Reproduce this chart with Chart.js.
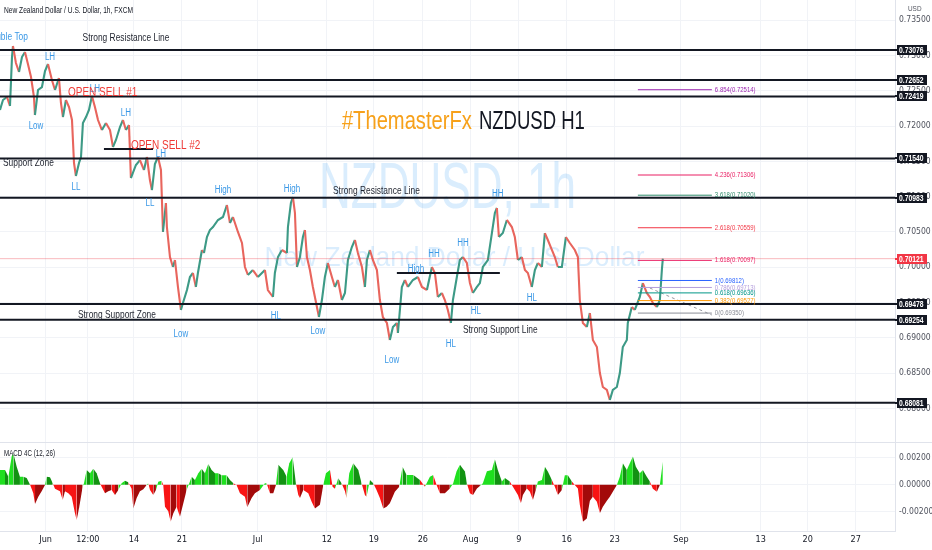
<!DOCTYPE html>
<html>
<head>
<meta charset="utf-8">
<script src="https://cdn.jsdelivr.net/npm/chart.js@4.4.0/dist/chart.umd.min.js"></script>
<style>
  body { margin: 0; background: #fff; width: 932px; height: 550px; overflow: hidden; }
  #wrapMain { position: absolute; left: 0; top: 0; width: 932px; height: 442px; }
  #wrapMacd { position: absolute; left: 0; top: 442px; width: 932px; height: 108px; }
</style>
</head>
<body>
<div id="wrapMain"><canvas id="mainChart" width="932" height="442"></canvas></div>
<div id="wrapMacd"><canvas id="macdChart" width="932" height="108"></canvas></div>
<script>
//############################
//######    Data     ########
//############################

// time axis, in trading days counted from Jun 1
const tickDays = [-0.3, 4.1, 8.9, 13.9, 21.8, 29, 33.9, 39, 44, 49, 54, 59, 65.9, 74.2, 79.1, 84.1];
const tickLabels = ["Jun", "12:00", "14", "21", "Jul", "12", "19", "26", "Aug", "9", "16", "23", "Sep", "13", "20", "27"];
const priceTicks = [0.68, 0.685, 0.69, 0.695, 0.70, 0.705, 0.71, 0.715, 0.72, 0.725, 0.73, 0.735];
const macdTicks = [-0.002, 0, 0.002];

// NZDUSD 1h path
const priceDays = [
  -5.05,-4.74,-4.32,-4.01,-3.80,-3.70,-3.39,-3.07,-2.76,-2.45,
  -2.14,-1.82,-1.51,-1.41,-1.09,-0.68,-0.36,-0.05,0.36,0.68,
  1.09,1.30,1.51,1.82,2.14,2.45,2.66,2.86,3.18,3.39,
  3.59,3.91,4.22,4.53,4.84,5.16,5.57,5.99,6.41,6.72,
  7.03,7.45,7.76,8.07,8.39,8.59,9.11,9.53,9.95,10.26,
  10.57,10.78,11.09,11.41,11.72,11.93,12.24,12.34,12.66,12.97,
  13.18,13.49,13.80,14.01,14.43,14.74,15.05,15.36,15.57,15.99,
  16.20,16.51,16.82,17.14,17.66,18.18,18.59,18.91,19.22,19.74,
  20.16,20.47,20.78,21.30,21.82,22.24,22.55,22.86,23.39,23.59,
  23.91,24.32,24.84,24.95,25.26,25.47,25.68,25.89,26.20,26.51,
  26.72,26.93,27.24,27.55,27.97,28.18,28.49,28.80,29.11,29.53,
  29.84,30.16,30.57,30.89,31.20,31.61,31.93,32.24,32.66,32.97,
  33.18,33.49,33.80,34.22,34.53,34.84,35.26,35.57,35.89,36.30,
  36.41,36.82,37.14,37.45,37.97,38.49,38.91,39.43,39.95,40.26,
  40.57,40.99,41.30,41.61,41.93,42.14,42.55,42.86,43.18,43.59,
  43.91,44.22,44.64,44.95,45.26,45.78,46.20,46.51,46.72,46.93,
  47.34,47.76,48.28,48.59,48.91,49.32,49.64,49.95,50.36,50.68,
  50.99,51.41,51.72,52.03,52.45,52.76,53.07,53.49,53.91,54.32,
  54.84,55.16,55.36,55.68,56.09,56.41,56.72,57.14,57.45,57.76,
  58.18,58.49,58.80,59.22,59.53,59.84,60.26,60.36,60.78,61.09,
  61.61,61.93,62.34,62.66,62.97,63.39,63.70,63.91,64.01
];
const priceCloses = [
  0.72227,0.72368,0.72411,0.72283,0.72977,0.73133,0.72892,0.72765,0.72977,0.73048,
  0.72878,0.72694,0.72411,0.72156,0.7251,0.72552,0.72779,0.72878,0.72652,0.7251,
  0.7268,0.72326,0.72127,0.72368,0.72269,0.72085,0.71476,0.71292,0.71476,0.71561,
  0.72042,0.72127,0.72227,0.72425,0.72269,0.72085,0.71943,0.72042,0.71943,0.71703,
  0.71802,0.71986,0.72085,0.71943,0.72014,0.71263,0.71448,0.71518,0.71377,0.71561,
  0.71235,0.71093,0.71462,0.71561,0.71377,0.70499,0.70909,0.70569,0.70144,0.70003,
  0.70102,0.6972,0.69394,0.69493,0.69677,0.69861,0.69918,0.6972,0.69918,0.70244,
  0.70201,0.70428,0.70527,0.70569,0.70669,0.70711,0.70881,0.70626,0.70711,0.70499,
  0.70343,0.70003,0.6989,0.6996,0.69861,0.69918,0.6996,0.69677,0.69578,0.69918,
  0.70144,0.70244,0.70201,0.70569,0.70909,0.70994,0.70768,0.70003,0.70144,0.70428,
  0.70527,0.70144,0.6996,0.6972,0.69436,0.69295,0.69535,0.69861,0.7006,0.69861,
  0.6972,0.69819,0.69535,0.69635,0.70102,0.70286,0.70385,0.70201,0.70003,0.6972,
  0.70102,0.70244,0.70102,0.6996,0.69535,0.69295,0.6921,0.68969,0.69153,0.6921,
  0.69068,0.6972,0.69819,0.6972,0.69819,0.69861,0.6972,0.69677,0.70003,0.69918,
  0.69578,0.69635,0.69535,0.69394,0.6921,0.69535,0.69861,0.70102,0.70144,0.7006,
  0.69776,0.69635,0.6972,0.69776,0.70003,0.70102,0.70484,0.70768,0.70839,0.70428,
  0.70484,0.70669,0.70569,0.70428,0.70102,0.70144,0.6996,0.69918,0.6972,0.6996,
  0.7006,0.70003,0.70484,0.70385,0.70244,0.70144,0.70003,0.70003,0.70428,0.70343,
  0.70244,0.70144,0.69535,0.6921,0.69153,0.69351,0.68969,0.6887,0.68501,0.68303,
  0.68261,0.68119,0.68261,0.68303,0.68501,0.6887,0.68969,0.6921,0.69436,0.69394,
  0.69578,0.69776,0.69635,0.69578,0.69493,0.69436,0.69535,0.6996,0.70121
];

// horizontal support / resistance levels
const levelPrices = [0.73076, 0.72652, 0.72419, 0.71540, 0.70983, 0.69478, 0.69254, 0.68081];
const lastPrice = 0.70121;
const sellLineDays = [5.78, 10.89];
const sellLinePrice = 0.71674;
const highLineDays = [36.30, 47.03];
const highLinePrice = 0.69918;

// fibonacci extension
const fibDays = [61.41, 69.12];
const fibRatios = ["6.854", "4.236", "3.618", "2.618", "1.618", "1", "0.786", "0.618", "0.382", "0"];
const fibPrices = [0.72514, 0.71306, 0.71020, 0.70559, 0.70097, 0.69812, 0.69713, 0.69636, 0.69527, 0.69350];
const fibTrendDays = [62.66, 69.12];
const fibTrendPrices = [0.69705, 0.69323];

// MACD 4C histogram
const macdDays = [
  -5.05,-4.53,-4.18,-3.83,-3.66,-3.31,-2.97,-2.62,-2.27,-1.93,
  -1.58,-1.40,-1.06,-0.71,-0.36,-0.19,0.16,0.44,0.68,1.20,
  1.48,1.72,2.07,2.42,2.76,2.94,3.21,3.56,3.70,3.98,
  4.33,4.67,5.02,5.37,5.54,5.89,6.23,6.58,6.93,7.28,
  7.62,7.97,8.32,8.66,8.84,9.19,9.53,9.88,10.23,10.40,
  10.58,10.92,11.20,11.44,11.79,11.96,12.14,12.48,12.73,13.01,
  13.35,13.70,14.05,14.39,14.67,14.92,15.26,15.61,15.96,16.30,
  16.65,17.00,17.35,17.69,18.04,18.56,18.91,19.26,19.60,19.95,
  20.47,20.71,21.17,21.51,22.03,22.55,22.73,23.07,23.42,23.70,
  23.94,24.46,24.81,25.09,25.44,25.78,26.03,26.20,26.55,27.07,
  27.42,27.76,28.28,28.63,28.91,29.33,29.60,29.85,30.19,30.54,
  30.89,31.06,31.34,31.76,32.28,32.62,32.97,33.14,33.49,33.84,
  34.18,34.53,34.88,35.23,35.57,36.09,36.55,36.89,37.31,38.01,
  38.70,39.22,39.74,40.09,40.44,40.78,41.30,41.82,42.17,42.52,
  42.87,43.39,43.59,43.91,44.22,44.64,44.95,45.26,45.68,46.20,
  46.51,46.82,47.24,47.55,48.07,48.39,48.91,49.22,49.43,49.84,
  50.16,50.47,50.78,50.99,51.41,51.72,52.03,52.45,52.76,53.07,
  53.49,53.80,54.11,54.53,54.84,55.16,55.36,55.68,56.09,56.41,
  56.72,57.14,57.45,57.76,58.18,58.49,58.80,59.22,59.53,59.84,
  60.26,60.57,60.89,61.20,61.61,61.93,62.34,62.66,62.97,63.39,
  63.70,64.01
];
const macdValues = [
  0.0011,0.0011,0.0006,0.0021,0.00235,0.00135,0.0006,0.0006,0.0005,0.00002,
  -0.00065,-0.00145,-0.0009,-0.0005,-0.00002,0.0006,0.00055,0.0001,-0.0003,-0.0005,
  -0.00115,-0.0005,-0.00065,-0.0009,-0.00215,-0.00265,-0.00165,-0.00015,0.0001,0.0011,
  0.00085,0.0012,0.00085,0.0001,-0.00015,-0.00065,-0.0005,-0.0004,-0.00078,-0.0004,
  0.0001,0.0003,0.00018,-0.0003,-0.00178,-0.001,-0.0005,-0.00035,-0.00003,0.0001,
  -0.0004,-0.00078,-0.0004,0.00022,0.0003,-0.00003,-0.00165,-0.002,-0.00278,-0.00215,
  -0.00165,-0.0024,-0.0014,-0.0004,0.0001,0.0006,0.00035,0.00085,0.0012,0.00085,
  0.00155,0.0011,0.00085,0.00085,0.0007,0.0007,0.00035,0.0001,-0.00003,-0.00065,
  -0.0009,-0.0017,-0.001,-0.00065,-0.0004,0.0001,0.0001,-0.00065,-0.00065,-0.00003,
  0.0015,0.0011,0.0006,0.0016,0.00205,0.0001,-0.00078,-0.001,-0.0004,-0.00065,
  -0.00128,-0.00178,-0.0015,-0.00003,0.00085,0.0011,-0.00015,-0.0003,0.00048,0.0001,
  -0.0005,-0.001,0.00085,0.0016,0.0011,0.0001,-0.00078,-0.0009,0.00035,0.0001,
  -0.0004,-0.001,-0.00178,-0.00165,-0.0014,-0.00053,-0.00015,0.00135,0.00073,0.00073,
  0.00035,-0.00015,0.0006,0.00073,-0.00003,-0.00065,-0.00065,-0.00028,0.0001,0.001,
  0.0015,0.00098,0.0001,-0.00065,-0.00078,-0.00028,-0.0001,0.0001,0.001,0.0011,
  0.0019,0.0011,0.00023,0.0005,0.00023,-0.00015,-0.00078,-0.0014,-0.00078,-0.00028,
  -0.00053,-0.00115,-0.0004,0.00023,0.00035,0.00135,0.00098,0.00035,-0.00015,-0.00078,
  -0.0004,0.0007,0.0007,0.00023,-0.00003,-0.00028,-0.0015,-0.00278,-0.00253,-0.0012,
  -0.0009,-0.00128,-0.00215,-0.00165,-0.0012,-0.0009,-0.00053,-0.00003,0.0006,0.0016,
  0.0011,0.0016,0.0021,0.00135,0.00085,0.0011,0.0006,0.00023,-0.0003,-0.00053,
  -0.00003,0.00172
];

//############################
//######   Styling   ########
//############################

const X_MIN = -5.05, X_MAX = 88.2;
const NARROW = "'Liberation Sans Narrow', 'DejaVu Sans Condensed', 'Liberation Sans', sans-serif";
const BLUE = "#3a98e6", DARK = "#1e222d", RED = "#ef3a36";
const UP = "#3d9a86", DOWN = "#e8655d";
const GRID = "#f1f3f7";
const SX = 0.8; // the screenshot is squeezed sideways

const fibColors = ["#9c27b0", "#e91e63", "#2e8b6a", "#f23645", "#e91e63", "#2962ff", "#b39ddb", "#009688", "#ff9800", "#8a8d96"];

Chart.defaults.font.family = NARROW;

// draws text squeezed horizontally (or fitted to a width)
function drawText(ctx, text, x, y, size, color, align, weight, width) {
  ctx.save();
  ctx.font = (weight || "normal") + " " + size + "px 'Liberation Sans', Arial, sans-serif";
  const w = ctx.measureText(text).width;
  const sx = width ? width / w : SX;
  ctx.translate(x, y);
  ctx.scale(sx, 1);
  ctx.fillStyle = color;
  ctx.textBaseline = "middle";
  ctx.textAlign = align || "left";
  ctx.fillText(text, 0, 0);
  ctx.restore();
}

// text notes on the chart: text, day, price, colour, align, size
const notes = [
  ["Double Top", -2.14, 0.73261, BLUE, "right", 10.5],
  ["Strong Resistance Line", 3.55, 0.73246, DARK, "left", 10.5],
  ["LH", 0.16, 0.72977, BLUE, "center", 10],
  ["LH", 4.84, 0.72524, BLUE, "center", 10],
  ["OPEN SELL #1", 2.03, 0.72467, RED, "left", 12.5],
  ["Low", -1.30, 0.72, BLUE, "center", 10],
  ["LH", 8.07, 0.72184, BLUE, "center", 10],
  ["OPEN SELL #2", 8.59, 0.71717, RED, "left", 12.5],
  ["LH", 11.72, 0.71603, BLUE, "center", 10],
  ["Support Zone", -4.74, 0.71476, DARK, "left", 10.5],
  ["LL", 2.86, 0.71136, BLUE, "center", 10],
  ["LL", 10.57, 0.70909, BLUE, "center", 10],
  ["High", 18.18, 0.71093, BLUE, "center", 10],
  ["High", 25.36, 0.71108, BLUE, "center", 10],
  ["Strong Resistance Line", 29.64, 0.7108, DARK, "left", 10.5],
  ["HH", 46.82, 0.71037, BLUE, "center", 10],
  ["HH", 43.18, 0.70343, BLUE, "center", 10],
  ["HH", 40.16, 0.70187, BLUE, "center", 10],
  ["High", 38.28, 0.69975, BLUE, "center", 10],
  ["HL", 50.36, 0.69564, BLUE, "center", 10],
  ["HL", 44.53, 0.6938, BLUE, "center", 10],
  ["HL", 41.93, 0.68912, BLUE, "center", 10],
  ["Low", 35.78, 0.68686, BLUE, "center", 10],
  ["Low", 28.07, 0.69096, BLUE, "center", 10],
  ["HL", 23.70, 0.69309, BLUE, "center", 10],
  ["Low", 13.80, 0.69054, BLUE, "center", 10],
  ["Strong Support Zone", 3.07, 0.69323, DARK, "left", 10.5],
  ["Strong Support Line", 43.18, 0.6911, DARK, "left", 10.5]
];

function hLine(days, price, color, width, dash) {
  return {
    data: [{ x: days[0], y: price }, { x: days[1], y: price }],
    borderColor: color, borderWidth: width, borderDash: dash || [],
    pointRadius: 0, fill: false
  };
}

//############################
//######  Price pane  ########
//############################

const mainSets = [];
levelPrices.forEach(p => mainSets.push(hLine([X_MIN, X_MAX], p, "#131722", 2)));
mainSets.push(hLine(sellLineDays, sellLinePrice, "#131722", 2));
mainSets.push(hLine(highLineDays, highLinePrice, "#131722", 2));
fibPrices.forEach((p, i) => mainSets.push(hLine(fibDays, p, fibColors[i], 1)));
mainSets.push({
  data: fibTrendDays.map((d, i) => ({ x: d, y: fibTrendPrices[i] })),
  borderColor: "#9598a1", borderWidth: 1, borderDash: [3, 3], pointRadius: 0, fill: false
});
mainSets.push(hLine([X_MIN, X_MAX], lastPrice, "rgba(242,54,69,0.35)", 1));
mainSets.push({
  data: priceDays.map((d, i) => ({ x: d, y: priceCloses[i] })),
  borderWidth: 2.1, pointRadius: 0, fill: false, borderColor: UP,
  segment: { borderColor: c => c.p1.parsed.y >= c.p0.parsed.y ? UP : DOWN }
});

const mainPlugin = {
  id: "mainDecor",
  beforeDatasetsDraw(chart) {
    const ctx = chart.ctx, a = chart.chartArea;
    const cx = (a.left + a.right) / 2;
    drawText(ctx, "NZDUSD, 1h", cx, 190, 64, "rgba(33,150,243,0.17)", "center", "normal", 257);
    drawText(ctx, "New Zealand Dollar / U.S. Dollar", cx + 7, 258, 28, "rgba(33,150,243,0.17)", "center", "normal", 380);
  },
  afterDatasetsDraw(chart) {
    const ctx = chart.ctx, xs = chart.scales.x, ys = chart.scales.y;
    notes.forEach(n => {
      drawText(ctx, n[0], xs.getPixelForValue(n[1]), ys.getPixelForValue(n[2]), n[5], n[3], n[4]);
    });
    fibPrices.forEach((p, i) => {
      drawText(ctx, fibRatios[i] + "(" + p.toFixed(5) + ")", xs.getPixelForValue(fibDays[1]) + 3,
        ys.getPixelForValue(p), 7.5, fibColors[i], "left");
    });
    // title
    const ty = ys.getPixelForValue(0.72057);
    const tx = xs.getPixelForValue(30.57);
    drawText(ctx, "#ThemasterFx", tx, ty, 25, "#f7a11a", "left", "normal", 130);
    drawText(ctx, "NZDUSD H1", tx + 137, ty, 25, "#131722", "left", "normal", 106);
  },
  afterDraw(chart) {
    const ctx = chart.ctx, a = chart.chartArea, ys = chart.scales.y;
    const tag = (p, bg) => {
      const y = Math.round(ys.getPixelForValue(p));
      ctx.fillStyle = bg;
      ctx.fillRect(a.right, y - 1, 3, 2);
      ctx.fillRect(a.right + 2, y - 5, 30, 10);
      drawText(ctx, p.toFixed(5), a.right + 4, y + 0.5, 8.5, "#ffffff", "left", "bold");
    };
    levelPrices.forEach(p => tag(p, "#131722"));
    tag(lastPrice, "#f23645");
    drawText(ctx, "New Zealand Dollar / U.S. Dollar, 1h, FXCM", 4, 11, 9, "#131722", "left", "normal", 129);
    drawText(ctx, "USD", 908, 9, 8, "#50535e", "left");
  }
};

new Chart(document.getElementById("mainChart"), {
  type: "line",
  data: { datasets: mainSets },
  options: {
    responsive: false, animation: false, devicePixelRatio: 1,
    layout: { padding: 0 },
    plugins: { legend: { display: false }, tooltip: { enabled: false } },
    scales: {
      x: {
        type: "linear", min: X_MIN, max: X_MAX,
        afterBuildTicks: s => { s.ticks = tickDays.map(v => ({ value: v })); },
        afterFit: s => { s.height = 0; s.paddingLeft = 0; s.paddingRight = 0; },
        ticks: { display: false },
        grid: { color: GRID, drawTicks: false },
        border: { display: false }
      },
      y: {
        position: "right", min: 0.67524, max: 0.73785,
        afterBuildTicks: s => { s.ticks = priceTicks.map(v => ({ value: v })); },
        afterFit: s => { s.width = 37; s.paddingTop = 0; s.paddingBottom = 0; },
        ticks: { padding: 4, color: "#50535e", font: { size: 8.5 }, callback: v => v.toFixed(5) },
        grid: { color: GRID, drawTicks: false },
        border: { color: "#e0e3eb" }
      }
    }
  },
  plugins: [mainPlugin]
});

//############################
//######  MACD pane   ########
//############################

function macdColor(prev, v) {
  if (v >= 0) return v >= prev ? "#1fe01f" : "#129212";
  return v < prev ? "#f81414" : "#a30a0a";
}

const macdPlugin = {
  id: "macdDecor",
  afterDraw(chart) {
    const ctx = chart.ctx;
    ctx.fillStyle = "#e0e3eb";
    ctx.fillRect(0, 0, chart.width, 1);
    drawText(ctx, "MACD 4C (12, 26)", 4, 12, 8.5, "#131722", "left", "normal", 51);
  }
};

new Chart(document.getElementById("macdChart"), {
  type: "line",
  data: {
    datasets: [{
      data: macdDays.map((d, i) => ({ x: d, y: macdValues[i] })),
      borderWidth: 0, borderColor: "transparent", backgroundColor: "#1fe01f",
      pointRadius: 0, fill: "origin",
      segment: { backgroundColor: c => macdColor(c.p0.parsed.y, c.p1.parsed.y) }
    }]
  },
  options: {
    responsive: false, animation: false, devicePixelRatio: 1,
    layout: { padding: { top: 1 } },
    plugins: { legend: { display: false }, tooltip: { enabled: false } },
    scales: {
      x: {
        type: "linear", min: X_MIN, max: X_MAX,
        afterBuildTicks: s => { s.ticks = tickDays.map(v => ({ value: v })); },
        afterFit: s => { s.height = 19; s.paddingLeft = 0; s.paddingRight = 0; },
        ticks: { autoSkip: false, maxRotation: 0, padding: 3, color: "#131722", font: { size: 9 },
                 callback: (v, i) => tickLabels[i] },
        grid: { color: GRID, drawTicks: false },
        border: { color: "#e0e3eb" }
      },
      y: {
        position: "right", min: -0.00347, max: 0.00312,
        afterBuildTicks: s => { s.ticks = macdTicks.map(v => ({ value: v })); },
        afterFit: s => { s.width = 37; s.paddingTop = 0; s.paddingBottom = 0; },
        ticks: { padding: 4, color: "#50535e", font: { size: 8.5 }, callback: v => v.toFixed(5) },
        grid: { color: GRID, drawTicks: false },
        border: { color: "#e0e3eb" }
      }
    }
  },
  plugins: [macdPlugin]
});
</script>
</body>
</html>
